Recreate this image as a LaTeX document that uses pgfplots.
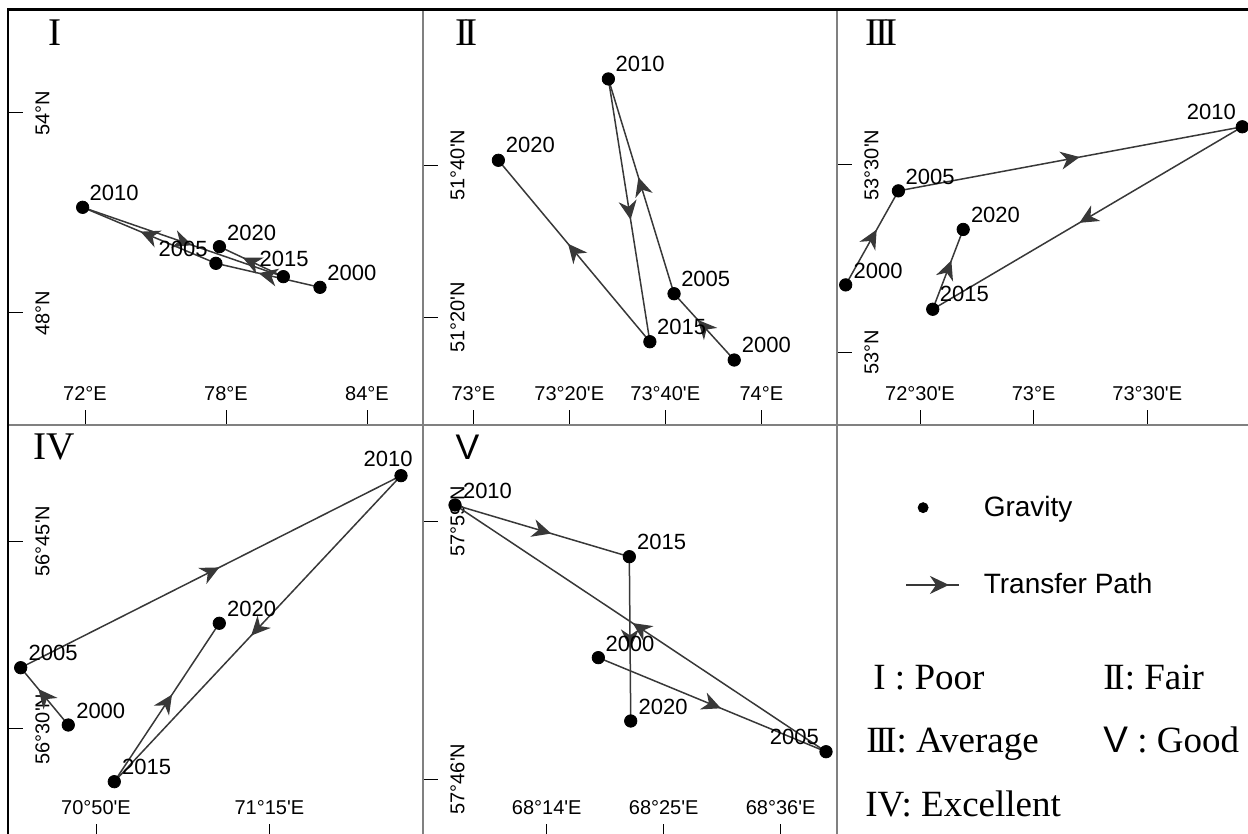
\documentclass[border=0pt]{standalone}
\usepackage{fontspec}
\setmainfont{Liberation Serif}
\newfontfamily\sansf{Liberation Sans}
\usepackage{pgfplots}
\pgfplotsset{compat=1.18}
\usetikzlibrary{arrows.meta,decorations.markings}
\definecolor{framec}{HTML}{808080}
\definecolor{segc}{HTML}{383838}
\newcommand\q{\textquotesingle}
\newcommand\RI{I}
\newcommand\RII{I\kern-0.09em I}
\newcommand\RIII{I\kern-0.09em I\kern-0.09em I}
\newcommand\yrf{\sansf\fontsize{11}{13}\selectfont}
\newcommand\yr[6]{\node[font=\yrf, inner sep=0pt, anchor=#1, xshift=#2, yshift=#3] at (axis cs:#4,#5) {#6};}
\pgfplotsset{
  panel/.style={
    scale only axis, anchor=north west, clip=false,
    axis line style={draw=framec, line width=0.9pt},
    tick align=inside, xtick pos=left, ytick pos=left,
    major tick length=7.5pt,
    tick style={black, line width=0.5pt},
    xticklabel style={font=\sansf\fontsize{10}{12}\selectfont, anchor=base, inner sep=0pt},
    xticklabel shift=-12pt,
    yticklabel style={font=\sansf\fontsize{10}{12}\selectfont, rotate=90, anchor=north, inner sep=0pt},
    yticklabel shift=-13.5pt,
  },
  seg/.style={segc, line width=0.75pt, no markers, postaction={decorate},
    decoration={markings, mark=at position 0.5 with {\pgftransformxshift{4.75pt}\arrow{Stealth[length=9.5pt,width=9pt,inset=3pt]}}}},
  dot/.style={only marks, mark=*, mark size=3.1pt, black, mark options={fill=black}},
}
\begin{document}
\begin{tikzpicture}
\path[use as bounding box] (0,0) rectangle (624pt,417pt);
\clip (0,0) rectangle (624pt,417pt);
% ---------- Panel I
\begin{axis}[panel, at={(4pt,412pt)}, width=207.5pt, height=207.5pt,
  xmin=68.723, xmax=86.383, ymin=44.64, ymax=57.09,
  xtick={72,78,84}, xticklabels={72°E,78°E,84°E},
  ytick={48,54}, yticklabels={48°N,54°N}]
\addplot[seg] coordinates {(82.00,48.77) (77.57,49.49)};
\addplot[seg] coordinates {(77.57,49.49) (71.90,51.17)};
\addplot[seg] coordinates {(71.90,51.17) (80.44,49.09)};
\addplot[seg] coordinates {(80.44,49.09) (77.72,49.99)};
\addplot[dot] coordinates {(82.00,48.77) (77.57,49.49) (71.90,51.17) (80.44,49.09) (77.72,49.99)};
\yr{base west}{3.5pt}{3.5pt}{82.00}{48.77}{2000}
\yr{base east}{-4pt}{3.5pt}{77.57}{49.49}{2005}
\yr{base west}{3.3pt}{3.6pt}{71.90}{51.17}{2010}
\yr{base west}{-12pt}{5pt}{80.44}{49.09}{2015}
\yr{base west}{3.7pt}{3pt}{77.72}{49.99}{2020}
\end{axis}
% ---------- Panel II
\begin{axis}[panel, at={(211.5pt,412pt)}, width=207pt, height=207.5pt,
  xmin=72.8253, xmax=74.2628, ymin=51.0978, ymax=52.0059,
  xtick={73,73.33333,73.66667,74}, xticklabels={73°E,73°20\q E,73°40\q E,74°E},
  ytick={51.33333,51.66667}, yticklabels={51°20\q N,51°40\q N}]
\addplot[seg] coordinates {(73.906,51.240) (73.697,51.385)};
\addplot[seg] coordinates {(73.697,51.385) (73.469,51.855)};
\addplot[seg] coordinates {(73.469,51.855) (73.613,51.280)};
\addplot[seg] coordinates {(73.613,51.280) (73.087,51.677)};
\addplot[dot] coordinates {(73.906,51.240) (73.697,51.385) (73.469,51.855) (73.613,51.280) (73.087,51.677)};
\yr{base west}{3.6pt}{3.6pt}{73.906}{51.240}{2000}
\yr{base west}{3.4pt}{3.5pt}{73.697}{51.385}{2005}
\yr{base west}{3.4pt}{3.6pt}{73.469}{51.855}{2010}
\yr{base west}{3.4pt}{3.4pt}{73.613}{51.280}{2015}
\yr{base west}{3.6pt}{3.8pt}{73.087}{51.677}{2020}
\end{axis}
% ---------- Panel III
\begin{axis}[panel, at={(418.5pt,412pt)}, width=207pt, height=207.5pt,
  xmin=72.1348, xmax=73.9562, ymin=52.8061, ymax=53.9137,
  xtick={72.5,73,73.5}, xticklabels={72°30\q E,73°E,73°30\q E},
  ytick={53,53.5}, yticklabels={53°N,53°30\q N}]
\addplot[seg] coordinates {(72.173,53.180) (72.405,53.431)};
\addplot[seg] coordinates {(72.405,53.431) (73.918,53.602)};
\addplot[seg] coordinates {(73.918,53.602) (72.556,53.115)};
\addplot[seg] coordinates {(72.556,53.115) (72.690,53.328)};
\addplot[dot] coordinates {(72.173,53.180) (72.405,53.431) (73.918,53.602) (72.556,53.115) (72.690,53.328)};
\yr{base west}{3.8pt}{3.4pt}{72.173}{53.180}{2000}
\yr{base west}{3.4pt}{3.4pt}{72.405}{53.431}{2005}
\yr{base east}{-3pt}{3.4pt}{73.918}{53.602}{2010}
\yr{base west}{3.4pt}{3.8pt}{72.556}{53.115}{2015}
\yr{base west}{3.7pt}{3.3pt}{72.690}{53.328}{2020}
\end{axis}
% ---------- Panel IV
\begin{axis}[panel, at={(4pt,204.5pt)}, width=207.5pt, height=207pt,
  xmin=70.6218, xmax=71.6194, ymin=56.3537, ymax=56.9043,
  xtick={70.83333,71.25}, xticklabels={70°50\q E,71°15\q E},
  ytick={56.5,56.75}, yticklabels={56°30\q N,56°45\q N}]
\addplot[seg] coordinates {(70.7667,56.5053) (70.6523,56.5815)};
\addplot[seg] coordinates {(70.6523,56.5815) (71.5665,56.8369)};
\addplot[seg] coordinates {(71.5665,56.8369) (70.8773,56.4299)};
\addplot[seg] coordinates {(70.8773,56.4299) (71.1297,56.6406)};
\addplot[dot] coordinates {(70.7667,56.5053) (70.6523,56.5815) (71.5665,56.8369) (70.8773,56.4299) (71.1297,56.6406)};
\yr{base west}{3.8pt}{3.4pt}{70.7667}{56.5053}{2000}
\yr{base west}{3.8pt}{3.4pt}{70.6523}{56.5815}{2005}
\yr{base east}{6pt}{4.5pt}{71.5665}{56.8369}{2010}
\yr{base west}{3.7pt}{3.4pt}{70.8773}{56.4299}{2015}
\yr{base west}{3.7pt}{3.3pt}{71.1297}{56.6406}{2020}
\end{axis}
% ---------- Panel V
\begin{axis}[panel, at={(211.5pt,204.5pt)}, width=207pt, height=207pt,
  xmin=68.0394, xmax=68.6883, ymin=57.7163, ymax=58.0640,
  xtick={68.23333,68.41667,68.6}, xticklabels={68°14\q E,68°25\q E,68°36\q E},
  ytick={57.76667,57.98333}, yticklabels={57°46\q N,57°59\q N}]
\addplot[seg] coordinates {(68.3142,57.8686) (68.6711,57.7896)};
\addplot[seg] coordinates {(68.6711,57.7896) (68.0896,57.9968)};
\addplot[seg] coordinates {(68.0896,57.9968) (68.3628,57.9534)};
\addplot[seg] coordinates {(68.3628,57.9534) (68.3650,57.8154)};
\addplot[dot] coordinates {(68.3142,57.8686) (68.6711,57.7896) (68.0896,57.9968) (68.3628,57.9534) (68.3650,57.8154)};
\yr{base west}{3.4pt}{3pt}{68.3142}{57.8686}{2000}
\yr{base east}{-3.4pt}{3.4pt}{68.6711}{57.7896}{2005}
\yr{base west}{3.8pt}{3.4pt}{68.0896}{57.9968}{2010}
\yr{base west}{3.7pt}{3.4pt}{68.3628}{57.9534}{2015}
\yr{base west}{3.8pt}{3.4pt}{68.3650}{57.8154}{2020}
\end{axis}
% ---------- Panel VI (legend)
\begin{axis}[panel, at={(418.5pt,204.5pt)}, width=207pt, height=207pt,
  xmin=0, xmax=1, ymin=0, ymax=1, xtick=\empty, ytick=\empty,
  legend style={at={(0.164,0.707)}, anchor=west, draw=none, fill=none, inner sep=0pt,
    column sep=12pt, row sep=27pt, font=\sansf\fontsize{14}{16}\selectfont,
    nodes={inner sep=0pt}},
  legend cell align=left]
\addlegendimage{only marks, mark=*, mark size=2.5pt, black}
\addlegendentry{Gravity}
\addlegendimage{legend image code/.code={\draw[segc, line width=0.75pt, postaction={decorate},
  decoration={markings, mark=at position 0.81 with {\arrow{Stealth[length=9.5pt,width=9pt,inset=3pt]}}}]
  (0pt,0pt) -- (26.5pt,0pt);}}
\addlegendentry{Transfer Path}
\end{axis}
% outer black border
\draw[black, line width=1.5pt] (3.5pt,412pt) -- (624pt,412pt);
\draw[black, line width=1pt] (4pt,412.7pt) -- (4pt,0pt);
% panel labels
\begin{scope}[every node/.style={anchor=base, inner sep=0pt, font=\fontsize{19.6}{22}\selectfont}]
\node at (27.5pt,394.2pt) {\RI};
\node at (233.3pt,394.2pt) {\RII};
\node at (440.8pt,394.2pt) {\RIII};
\node at (27.3pt,187pt) {IV};
\node[font=\sansf\fontsize{17.8}{20}\selectfont] at (233.8pt,187pt) {V};
\end{scope}
% grade legend
\begin{scope}[every node/.style={anchor=base west, inner sep=0pt, font=\fontsize{18.5}{20}\selectfont}]
\node at (436.5pt,72pt) {\RI\ : Poor};
\node at (551.5pt,72pt) {\RII: Fair};
\node at (433pt,40.5pt) {\RIII: Average};
\node at (551.5pt,40.5pt) {{\sansf V} : Good};
\node at (432.5pt,8.6pt) {IV: Excellent};
\end{scope}
\end{tikzpicture}
\end{document}
